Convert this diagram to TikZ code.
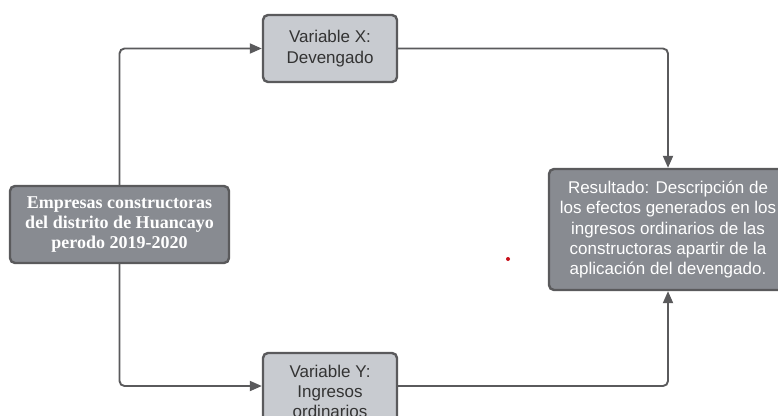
\documentclass[tikz,border=0pt]{standalone}
\usepackage{fontspec}
\setmainfont{Liberation Sans}
\newfontfamily\serifbox{Liberation Serif}
\usetikzlibrary{arrows.meta}
\definecolor{edgegray}{HTML}{5A5A5C}
\definecolor{darkfill}{HTML}{888B91}
\definecolor{lightfill}{HTML}{C8CBD0}
\definecolor{dotred}{HTML}{C8101A}
\tikzset{
  boxbase/.style={draw=edgegray, line width=2.4pt, rounded corners=5pt, inner sep=0pt, align=center, font=\fontsize{17}{20.3}\selectfont},
  darkbox/.style={boxbase, fill=darkfill, text=white},
  lightbox/.style={boxbase, fill=lightfill, text=black!80},
  conn/.style={draw=edgegray, line width=1.9pt, rounded corners=5pt, -{Triangle[length=12pt,width=10pt]}},
}
\begin{document}
\begin{tikzpicture}[x=1pt,y=-1pt]
\useasboundingbox (0,0) rectangle (778,415);
\clip (0,0) rectangle (778,415);
\fill[white] (0,0) rectangle (778,415);
\node[darkbox, minimum width=219pt, minimum height=77pt, font=\serifbox\bfseries\fontsize{18}{20}\selectfont] (L) at (119.5,224.5) {Empresas constructoras\\del distrito de Huancayo\\perodo 2019-2020};
\node[lightbox, minimum width=134pt, minimum height=67pt] (X) at (330,48.5) {Variable X:\\Devengado};
\node[lightbox, minimum width=134pt, minimum height=77pt] (Y) at (330,391.5) {Variable Y:\\Ingresos\\ordinarios};
\node[darkbox, minimum width=238pt, minimum height=121pt] (R) at (668,229.5) {Resultado: Descripción de\\los efectos generados en los\\ingresos ordinarios de las\\constructoras apartir de la\\aplicación del devengado.};
\draw[conn] (L.north) |- (X.west);
\draw[conn] (L.south) |- ([yshift=5.5pt]Y.west);
\draw[conn] (X.east) -| (R.north);
\draw[conn] ([yshift=5.5pt]Y.east) -| (R.south);
\fill[dotred] (508,259) circle (2pt);
\end{tikzpicture}
\end{document}
